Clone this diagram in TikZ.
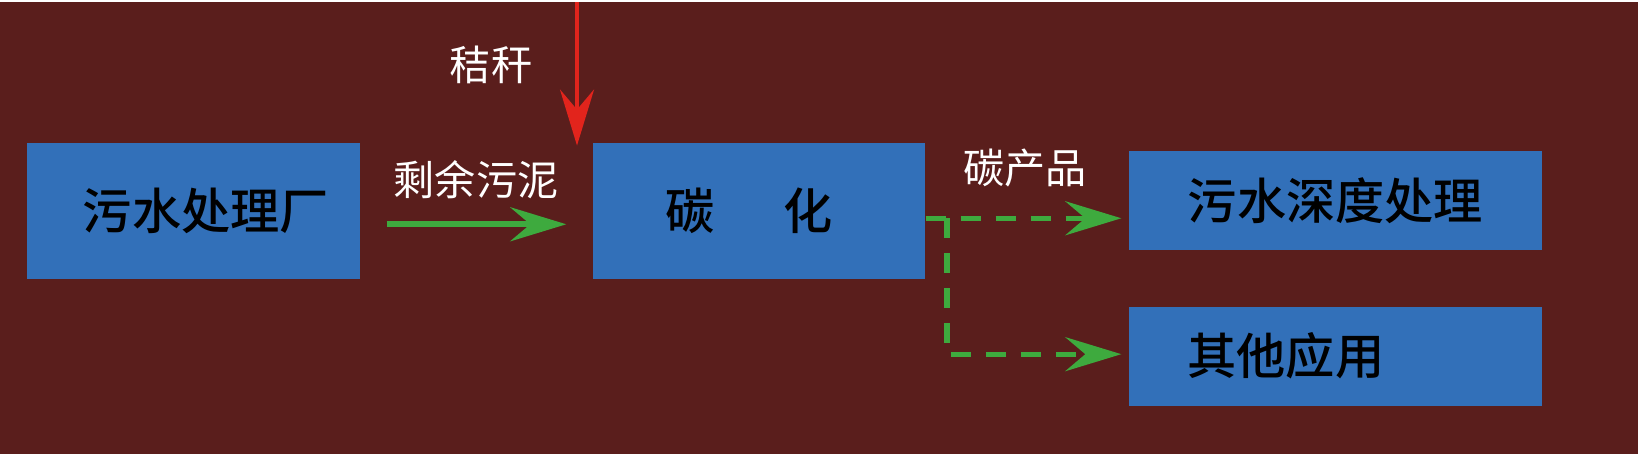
\documentclass[tikz,border=0pt]{standalone}
\usepackage{fontspec}
\setmainfont{Noto Sans CJK SC}
\newfontfamily\boxfont{Noto Sans CJK SC Medium}
\usepackage{tikz}
\usetikzlibrary{positioning, calc, arrows.meta}
\definecolor{bgred}{RGB}{90,30,28}
\definecolor{boxblue}{RGB}{50,112,185}
\definecolor{flowgreen}{RGB}{62,170,62}
\definecolor{strawred}{RGB}{226,36,28}

\begin{document}
\begin{tikzpicture}[
    box/.style={fill=boxblue,inner sep=0pt,text=black,font=\boxfont\fontsize{14pt}{16pt}\selectfont},
    lbl/.style={text=white,inner sep=0pt,font=\fontsize{11.7pt}{14pt}\selectfont},
    tip/.style={-{Stealth[length=5.6mm,width=3.4mm,inset=2mm]}},
    flow/.style={tip,draw=flowgreen,line width=1.8pt},
    flowdash/.style={flow,line width=1.5pt,dash pattern=on 2mm off 1.5mm}]
                  \fill[bgred] (0,0) rectangle (16.38,4.52);
                  \node[box,minimum width=3.33cm,minimum height=1.36cm] (wushui) at (1.935,2.43) {\hspace{0.25cm}污水处理厂};
                  \node[box,minimum width=3.32cm,minimum height=1.36cm] (tanhua) at (7.59,2.43) {\hspace{-0.2cm}碳\hspace{1.4em}化};
                  \node[box,minimum width=4.13cm,minimum height=0.99cm] (shendu) at (13.355,2.535) {污水深度处理};
                  \node[box,minimum width=4.13cm,minimum height=0.99cm,text width=2.96cm,align=left,below=0.55cm of shendu] (qiyong) {其他应用};
                  \node[lbl] (jiegan) at (4.91,3.89) {秸秆};
                  \node[lbl] (wuni) at (4.76,2.75) {剩余污泥};
                  \node[lbl] (chanpin) at (10.25,2.86) {碳产品};
                  \coordinate (jgtop) at (5.77,4.52);
                  \coordinate (fork) at (9.47,2.36);
                  \draw[tip,draw=strawred,line width=1.3pt] (jgtop) -- ([yshift=-0.03cm]jgtop |- tanhua.north);
                  \draw[flow] ([xshift=0.26cm,yshift=-0.13cm]wushui.east) -- ([xshift=-0.26cm,yshift=-0.13cm]tanhua.west);
                  \draw[flowdash,shorten >=0.07cm] (tanhua.east |- fork) -- (shendu.west |- fork);
                  \draw[flowdash,shorten >=0.07cm] (fork) |- ([yshift=0.02cm]qiyong.west);
              \end{tikzpicture}
\end{document}
